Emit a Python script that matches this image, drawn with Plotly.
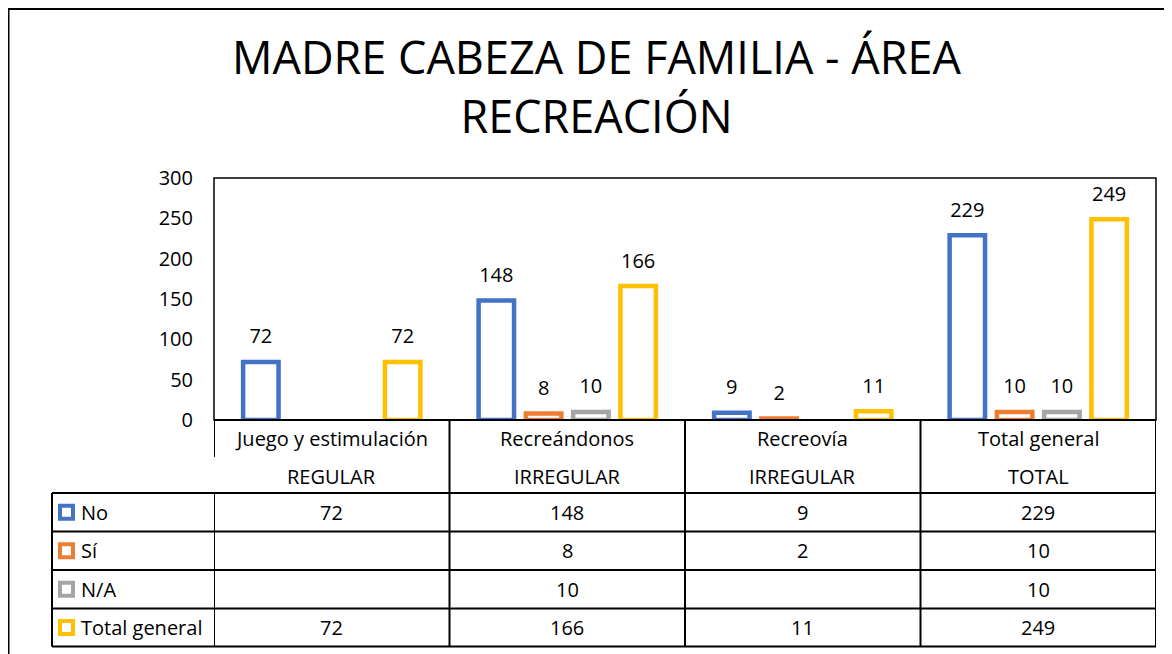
import plotly.graph_objects as go

# ---------------- data ----------------
categories = ["Juego y estimulación", "Recreándonos", "Recreovía", "Total general"]
sub_labels = ["REGULAR", "IRREGULAR", "IRREGULAR", "TOTAL"]
series_names = ["No", "Sí", "N/A", "Total general"]
no_vals = [72, 148, 9, 229]
si_vals = [None, 8, 2, 10]
na_vals = [None, 10, None, 10]
total_vals = [72, 166, 11, 249]
y_ticks = [0, 50, 100, 150, 200, 250, 300]
title_text = "MADRE CABEZA DE FAMILIA - ÁREA<br>RECREACIÓN"

series_vals = [no_vals, si_vals, na_vals, total_vals]
colors = ["#4472C4", "#ED7D31", "#A5A5A5", "#FFC000"]

FONT = "Open Sans, Lato, sans-serif"
FS = 20
OFF = 8  # page body margin
W, H = 1172 - OFF, 654 - OFF
# plot area in screen pixels: x 214..1156, y 178..420
L, R, T, B = 214 - OFF, 1172 - 1156, 178 - OFF, 654 - 420
PW, PH = W - L - R, H - T - B


def px2x(px):
    return (px - OFF - L) / PW


def py2y(py):
    return (H - B - (py - OFF)) / PH


fig = go.Figure()
for name, vals, col in zip(series_names, series_vals, colors):
    fig.add_trace(go.Bar(
        x=categories, y=vals, name=name,
        marker=dict(color="white", line=dict(color=col, width=4.5)),
        offsetgroup=name, showlegend=False, hoverinfo="skip",
    ))
for name, vals, col in zip(series_names, series_vals, colors):
    fig.add_trace(go.Scatter(
        x=categories, y=vals, mode="markers+text",
        text=["" if v is None else str(v) for v in vals],
        textposition="top center",
        textfont=dict(family=FONT, size=FS, color="black"),
        marker=dict(size=20, opacity=0),
        offsetgroup=name, showlegend=False, hoverinfo="skip", cliponaxis=False,
    ))

shapes = []
ann = []
line_k = dict(color="black", width=2)

# outer chart border
shapes.append(dict(type="rect", xref="paper", yref="paper",
                   x0=px2x(8.5), x1=px2x(1200), y0=py2y(700), y1=py2y(9),
                   line=dict(color="black", width=2), layer="above"))
# plot frame
shapes.append(dict(type="rect", xref="paper", yref="paper", x0=0, x1=1, y0=0, y1=1,
                   line=dict(color="black", width=1.5), layer="above"))
shapes.append(dict(type="line", xref="paper", yref="paper", x0=0, x1=1, y0=0, y1=0,
                   line=line_k, layer="above"))

# table geometry (screen pixel rows)
row_lines = [493, 531.5, 570, 608.5, 646.5]
row_centers = [(row_lines[i] + row_lines[i + 1]) / 2 for i in range(4)]
tbl_left = 52
n = len(categories)

for yl in row_lines:
    shapes.append(dict(type="line", xref="paper", yref="paper",
                       x0=px2x(tbl_left), x1=1, y0=py2y(yl), y1=py2y(yl), line=line_k))
shapes.append(dict(type="line", xref="paper", yref="paper",
                   x0=px2x(tbl_left), x1=px2x(tbl_left), y0=py2y(row_lines[0]), y1=py2y(row_lines[-1]),
                   line=line_k))
# category boundaries
for i in range(n + 1):
    xb = i - 0.5
    if i == 0:
        shapes.append(dict(type="line", xref="x", yref="paper", x0=xb, x1=xb,
                           y0=py2y(420), y1=py2y(457), line=line_k))
        shapes.append(dict(type="line", xref="x", yref="paper", x0=xb, x1=xb,
                           y0=py2y(row_lines[0]), y1=py2y(row_lines[-1]), line=line_k))
    else:
        shapes.append(dict(type="line", xref="x", yref="paper", x0=xb, x1=xb,
                           y0=py2y(420), y1=py2y(row_lines[-1]), line=line_k))

tfont = dict(family=FONT, size=FS, color="black")
# category headers
for i, (c, s) in enumerate(zip(categories, sub_labels)):
    ann.append(dict(x=i, xref="x", y=py2y(438), yref="paper", text=c, showarrow=False,
                    font=tfont, xanchor="center", yanchor="middle"))
    ann.append(dict(x=i, xref="x", y=py2y(476), yref="paper", text=s, showarrow=False,
                    font=tfont, xanchor="center", yanchor="middle"))

# table rows
for r, (name, vals, col) in enumerate(zip(series_names, series_vals, colors)):
    yc = row_centers[r]
    shapes.append(dict(type="rect", xref="paper", yref="paper",
                       x0=px2x(60), x1=px2x(73), y0=py2y(yc + 6.5), y1=py2y(yc - 6.5),
                       line=dict(color=col, width=4), fillcolor="white"))
    ann.append(dict(x=px2x(79), xref="paper", y=py2y(yc), yref="paper", text=name,
                    showarrow=False, font=tfont, xanchor="left", yanchor="middle"))
    for i, v in enumerate(vals):
        if v is not None:
            ann.append(dict(x=i, xref="x", y=py2y(yc), yref="paper", text=str(v),
                            showarrow=False, font=tfont, xanchor="center", yanchor="middle"))

# title
ann.append(dict(x=px2x(596), xref="paper", y=py2y(86), yref="paper", text=title_text,
                showarrow=False, font=dict(family=FONT, size=45, color="black"),
                xanchor="center", yanchor="middle"))

fig.update_layout(
    width=W, height=H,
    margin=dict(l=L, r=R, t=T, b=B, autoexpand=False),
    paper_bgcolor="white", plot_bgcolor="white",
    barmode="group", bargap=0.197, bargroupgap=0.25,
    scattermode="group", scattergap=0.197,
    showlegend=False,
    shapes=shapes, annotations=ann,
    xaxis=dict(type="category", categoryorder="array", categoryarray=categories,
               showticklabels=False, showgrid=False, zeroline=False, showline=False,
               range=[-0.5, n - 0.5]),
    yaxis=dict(range=[0, 300], tickvals=y_ticks, showgrid=False, zeroline=False,
               showline=False, ticks="", ticklabelstandoff=20,
               tickfont=dict(family=FONT, size=FS, color="black")),
)

fig.write_html("out.html")
